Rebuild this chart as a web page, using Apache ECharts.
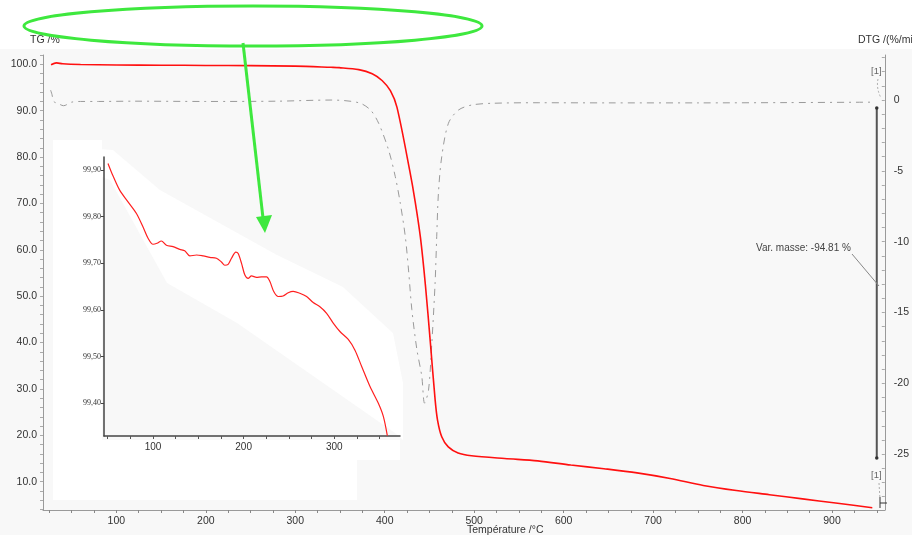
<!DOCTYPE html>
<html>
<head>
<meta charset="utf-8">
<script src="https://cdn.jsdelivr.net/npm/echarts@6/dist/echarts.min.js"></script>
<style>
html,body{margin:0;padding:0;background:#f8f8f8;}
#c{width:912px;height:535px;}
</style>
</head>
<body>
<div id="c"></div>
<script>
// ---- data ----
const tgTemp = [27,33,40,60,100,150,200,250,300,340,349,371,386,397,406.3,413.7,428,434,440,445.5,451,456.3,459,463.7,471,482,497,534,571,608,645,682,719,756,793,830,867,904,945];
const tgMass = [99.9,100.3,100.1,99.95,99.85,99.8,99.75,99.7,99.6,99.35,99.28,98.85,97.97,96.5,94.3,90.7,77,70.4,62.5,52.3,40,27.7,23.3,19.7,17.5,16.2,15.6,15.0,14.5,13.6,12.8,11.9,10.7,9.2,8.1,7.2,6.3,5.4,4.4];

const dtgTemp = [26.5,28,30,35,41,50,60,80,120,200,280,340,371,384,393.2,404.3,411.8,417.4,423,426.6,430.3,435.9,441.4,444.5,448.9,452.6,456.3,458.1,460,463.7,471.2,482.3,497.2,519.4,571.4,650,750,850,945];
const dtgRate = [0.7,0.4,-0.1,-0.25,-0.4,-0.15,-0.1,-0.1,-0.08,-0.1,-0.08,0,-0.19,-0.7,-1.64,-3.53,-5.41,-7.29,-9.65,-12.0,-14.8,-17.6,-19.5,-21.4,-20.5,-17.2,-12.9,-9.65,-6.58,-4.0,-1.64,-0.71,-0.35,-0.23,-0.19,-0.2,-0.2,-0.18,-0.15];

const insetTemp = [50.3,54,63.2,72.4,81.7,89,94.5,100,104.4,109.2,114.8,122.1,129.5,135,140.6,148,155.4,162.7,170,175.5,179.2,182.9,186.6,191.4,194,197.7,201.4,205,208.7,214.3,219.8,225.3,229,233.4,238.1,243.6,249.2,254.7,262,269.5,276.8,284.2,291.6,298.9,306.3,315.5,322.9,330.3,339.5,348.7,354.2,358.6];
const insetMass = [99.914,99.896,99.857,99.832,99.807,99.778,99.754,99.741,99.743,99.748,99.739,99.736,99.730,99.727,99.716,99.718,99.716,99.713,99.711,99.703,99.696,99.698,99.711,99.724,99.721,99.700,99.675,99.668,99.673,99.670,99.671,99.671,99.661,99.639,99.629,99.630,99.637,99.640,99.636,99.629,99.616,99.607,99.593,99.572,99.554,99.537,99.514,99.479,99.436,99.400,99.372,99.331];

// mass change indicator (DTG axis units) at T = 950
const massLineTemp = [950,950];
const massLineRate = [-0.56,-25.27];

// tick labels
const xLabels = [100,200,300,400,500,600,700,800,900];
const tgLabels = [10,20,30,40,50,60,70,80,90,100];
const dtgLabels = [0,-5,-10,-15,-20,-25];
const insetXLabels = [100,200,300];
const insetYLabels = [99.4,99.5,99.6,99.7,99.8,99.9];

// ---- ticks (minor) ----
function range(a,b,s){const r=[];for(let v=a;v<=b+1e-9;v+=s)r.push(+v.toFixed(4));return r;}
const xTicks = range(25,950,25);
const tgTicks = range(4,102,2);
const dtgTicks = range(-28,3,1);
const insetXTicks = range(50,370,25);

const chart = echarts.init(document.getElementById('c'), null, {renderer:'canvas'});
const font = 'Liberation Sans, Arial, sans-serif';
const axisGray = '#9a9a9a';

const option = {
  backgroundColor: '#f8f8f8',
  animation: false,
  grid: [
    {left:43, right:24, top:55, bottom:25},
    {left:104, top:157, width:296, height:279}
  ],
  xAxis: [
    {type:'value', gridIndex:0, min:18, max:959,
     axisLine:{onZero:false, lineStyle:{color:axisGray, width:1}},
     axisTick:{customValues:xTicks, length:3, lineStyle:{color:'#888'}},
     axisLabel:{customValues:xLabels, color:'#333', fontSize:10.5, fontFamily:font, margin:6},
     splitLine:{show:false}},
    {type:'value', gridIndex:1, min:45.9, max:372.6,
     axisLine:{onZero:false, lineStyle:{color:'#444', width:1.5}},
     axisTick:{customValues:insetXTicks, length:3, lineStyle:{color:'#555'}},
     axisLabel:{customValues:insetXLabels, color:'#333', fontSize:10, fontFamily:font, margin:6},
     splitLine:{show:false}}
  ],
  yAxis: [
    {type:'value', gridIndex:0, min:3.9, max:102,
     axisLine:{show:true, onZero:false, lineStyle:{color:axisGray, width:1}},
     axisTick:{show:true, customValues:tgTicks, length:3, lineStyle:{color:'#aaa'}},
     axisLabel:{customValues:tgLabels, formatter:v=>Number(v).toFixed(1), color:'#333', fontSize:10.5, fontFamily:font, margin:6},
     splitLine:{show:false}},
    {type:'value', gridIndex:0, position:'right', min:-28.94, max:3.18,
     axisLine:{show:true, onZero:false, lineStyle:{color:axisGray, width:1}},
     axisTick:{show:true, inside:true, customValues:dtgTicks, length:3, lineStyle:{color:'#aaa'}},
     axisLabel:{customValues:dtgLabels, color:'#333', fontSize:10.5, fontFamily:font, margin:9},
     splitLine:{show:false}},
    {type:'value', gridIndex:1, min:99.33, max:99.928,
     axisLine:{show:true, onZero:false, lineStyle:{color:'#444', width:1.5}},
     axisTick:{show:true, customValues:insetYLabels, length:3, lineStyle:{color:'#444'}},
     axisLabel:{customValues:insetYLabels, formatter:v=>Number(v).toFixed(2).replace('.',','), color:'#333', fontSize:8, fontFamily:'Liberation Serif, serif', margin:3},
     splitLine:{show:false}}
  ],
  series: [
    {type:'line', name:'DTG', xAxisIndex:0, yAxisIndex:1, showSymbol:false, smooth:0.3,
     data: dtgTemp.map((t,i)=>[t,dtgRate[i]]),
     lineStyle:{color:'#9a9a9a', width:1, type:[7,5,2,5]}, z:3},
    {type:'line', name:'TG', xAxisIndex:0, yAxisIndex:0, showSymbol:false, smooth:0.3,
     data: tgTemp.map((t,i)=>[t,tgMass[i]]),
     lineStyle:{color:'#ff1010', width:1.6}, z:4},
    {type:'line', name:'mass', xAxisIndex:0, yAxisIndex:1, symbol:'circle', symbolSize:3.5,
     data: massLineTemp.map((t,i)=>[t,massLineRate[i]]),
     itemStyle:{color:'#333'}, lineStyle:{color:'#555', width:2}, z:3},
    {type:'line', name:'inset', xAxisIndex:1, yAxisIndex:2, showSymbol:false, smooth:0.3,
     data: insetTemp.map((t,i)=>[t,insetMass[i]]),
     lineStyle:{color:'#ff2020', width:1.2}, z:4}
  ],
  graphic: [
    {type:'rect', shape:{x:0,y:0,width:912,height:49}, style:{fill:'#ffffff'}, z:-10, silent:true},
    {type:'polygon', shape:{points:[[53,140],[102,140],[102,440],[400,440],[400,460],[357,460],[357,500],[53,500]]}, style:{fill:'#ffffff'}, z:-10, silent:true},
    {type:'polygon', shape:{points:[[83,148],[113,150],[160,190],[277,255],[343,287],[393,333],[403,383],[403,440],[395,433],[237,323],[167,283],[110,180],[83,170]]}, style:{fill:'#ffffff'}, z:-10, silent:true},
    {type:'text', left:30, top:35, style:{text:'TG /%', fill:'#333', font:'10.5px '+font}, z:10},
    {type:'text', left:858, top:35, style:{text:'DTG /(%/min)', fill:'#333', font:'10.5px '+font}, z:10},
    {type:'text', left:467, top:525, style:{text:'Température /°C', fill:'#333', font:'10.5px '+font}, z:10},
    {type:'text', left:756, top:243, style:{text:'Var. masse: -94.81 %', fill:'#444', font:'10px '+font}, z:10},
    {type:'line', shape:{x1:852,y1:254,x2:879,y2:286}, style:{stroke:'#888', lineWidth:1}, z:10},
    {type:'text', left:871, top:66, style:{text:'[1]', fill:'#666', font:'9.5px '+font}, z:10},
    {type:'bezierCurve', shape:{x1:878,y1:79,x2:881,y2:98,cpx1:876,cpy1:88}, style:{stroke:'#999', lineWidth:0.8, lineDash:[2,2], fill:null}, z:10},
    {type:'text', left:871, top:470, style:{text:'[1]', fill:'#666', font:'9.5px '+font}, z:10},
    {type:'line', shape:{x1:879,y1:483,x2:880,y2:499}, style:{stroke:'#999', lineWidth:0.8, lineDash:[2,2]}, z:10},
    {type:'line', shape:{x1:880,y1:497,x2:880,y2:508}, style:{stroke:'#333', lineWidth:1}, z:10},
    {type:'line', shape:{x1:880,y1:503,x2:887,y2:503}, style:{stroke:'#333', lineWidth:1}, z:10},
    {type:'ellipse', shape:{cx:253,cy:26,rx:229,ry:20}, style:{stroke:'#3ee83e', lineWidth:3, fill:null}, z:20},
    {type:'line', shape:{x1:243,y1:43,x2:263,y2:218}, style:{stroke:'#3ee83e', lineWidth:3}, z:20},
    {type:'polygon', shape:{points:[[256,217],[272,215],[265,233]]}, style:{fill:'#3ee83e'}, z:20}
  ]
};
chart.setOption(option);
</script>
</body>
</html>
